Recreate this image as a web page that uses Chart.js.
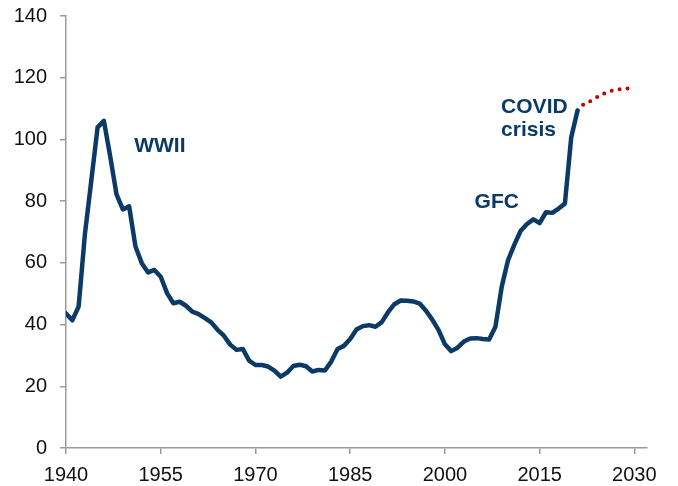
<!DOCTYPE html>
<html>
<head>
<meta charset="utf-8">
<script src="https://cdn.jsdelivr.net/npm/chart.js@4"></script>
<style>
  html, body { margin: 0; padding: 0; background: #fff; }
  #wrap { width: 678px; height: 486px; }
</style>
</head>
<body>
<div id="wrap"><canvas id="debt-chart" width="678" height="486"></canvas></div>
<script>
// Historical debt (% of GDP), one value per year from 1940
const histYears = [];
for (let y = 1940; y <= 2021; y++) histYears.push(y);
const histValues = [
  43.6, 41.4, 45.8, 69.4, 86.5, 103.9, 106.0, 94.5, 82.2, 77.3,
  78.3, 65.3, 59.9, 56.9, 57.7, 55.5, 50.2, 46.9, 47.4, 46.1,
  44.2, 43.4, 42.1, 40.7, 38.3, 36.4, 33.5, 31.8, 32.1, 28.3,
  26.9, 26.9, 26.4, 25.1, 23.1, 24.4, 26.6, 27.0, 26.5, 24.8,
  25.3, 25.1, 28.0, 32.1, 33.1, 35.3, 38.4, 39.5, 39.8, 39.3,
  40.8, 44.0, 46.6, 47.8, 47.7, 47.5, 46.8, 44.5, 41.6, 38.2,
  33.6, 31.4, 32.5, 34.5, 35.5, 35.6, 35.3, 35.2, 39.3, 52.3,
  60.9, 65.9, 70.4, 72.6, 74.1, 72.9, 76.4, 76.2, 77.6, 79.2,
  100.6, 109.4
];

// Projection, dotted red
const projYears = [2021, 2022, 2023, 2024, 2025, 2026, 2027, 2028, 2029, 2030];
const projValues = [109.4, 111.5, 112.4, 113.6, 114.7, 115.6, 116.1, 116.4, 116.5, 116.5];

// Axis ticks
const xTicks = [1940, 1955, 1970, 1985, 2000, 2015, 2030];
const yTicks = [0, 20, 40, 60, 80, 100, 120, 140];

// Text annotations placed in data space
const notes = [
  { text: 'WWII', x: 1950.8, y: 96 },
  { text: 'GFC', x: 2004.7, y: 77.7 },
  { text: 'COVID', x: 2008.9, y: 108.7 },
  { text: 'crisis', x: 2008.9, y: 101.1 }
];

const navy = '#0b3a66';
const axisGrey = '#9a9a9a';
const fontFamily = '"Liberation Sans", Arial, sans-serif';

const notePlugin = {
  id: 'notes',
  afterDatasetsDraw(chart) {
    const ctx = chart.ctx;
    const xs = chart.scales.x, ys = chart.scales.y;
    ctx.save();
    ctx.font = 'bold 21px ' + fontFamily;
    ctx.fillStyle = navy;
    ctx.textAlign = 'left';
    ctx.textBaseline = 'alphabetic';
    notes.forEach(function(n) {
      ctx.fillText(n.text, xs.getPixelForValue(n.x), ys.getPixelForValue(n.y));
    });
    ctx.restore();
  }
};

const ctx = document.getElementById('debt-chart').getContext('2d');
new Chart(ctx, {
  type: 'line',
  data: {
    datasets: [
      {
        label: 'Debt',
        data: histYears.map((yr, i) => ({ x: yr, y: histValues[i] })),
        borderColor: navy,
        borderWidth: 4.5,
        borderJoinStyle: 'round',
        borderCapStyle: 'round',
        pointRadius: 0,
        tension: 0
      },
      {
        label: 'Projection',
        data: projYears.map((yr, i) => ({ x: yr, y: projValues[i] })),
        borderColor: '#c00000',
        borderWidth: 4,
        borderDash: [0, 8],
        borderCapStyle: 'round',
        pointRadius: 0,
        tension: 0
      }
    ]
  },
  options: {
    responsive: false,
    animation: false,
    layout: { padding: { top: 16, right: 31, bottom: 0, left: 0 } },
    plugins: { legend: { display: false }, tooltip: { enabled: false } },
    scales: {
      x: {
        type: 'linear',
        min: 1940,
        max: 2032,
        afterBuildTicks: s => { s.ticks = xTicks.map(v => ({ value: v })); },
        afterFit: s => { s.height = 38; },
        grid: { drawOnChartArea: false, drawTicks: true, tickLength: 6, color: axisGrey, lineWidth: 1.5 },
        border: { color: axisGrey, width: 1.5 },
        ticks: { color: '#111', font: { family: fontFamily, size: 20 }, padding: 9, maxRotation: 0,
                 callback: v => String(v) }
      },
      y: {
        min: 0,
        max: 140,
        afterBuildTicks: s => { s.ticks = yTicks.map(v => ({ value: v })); },
        afterFit: s => { s.width = 66; s.paddingTop = 0; s.paddingBottom = 0; },
        grid: { drawOnChartArea: false, drawTicks: true, tickLength: 6, color: axisGrey, lineWidth: 1.5 },
        border: { color: axisGrey, width: 1.5 },
        ticks: { color: '#111', font: { family: fontFamily, size: 20 }, padding: 13 }
      }
    }
  },
  plugins: [notePlugin]
});
</script>
</body>
</html>
